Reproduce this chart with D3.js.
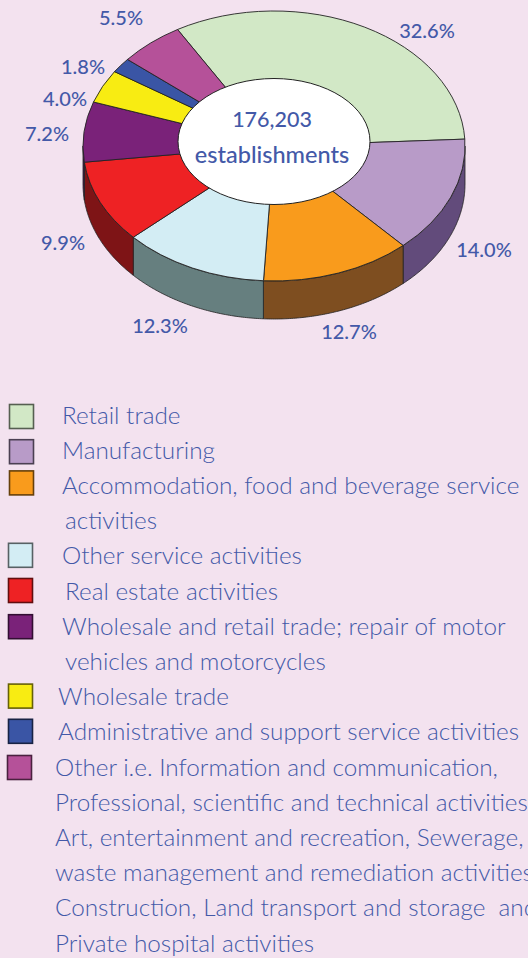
<!DOCTYPE html>
<html>
<head>
<meta charset="utf-8">
<script src="https://cdn.jsdelivr.net/npm/d3@7"></script>
<style>
  html, body { margin: 0; padding: 0; background: #f3e2ef; overflow: hidden; }
  svg { display: block; }
</style>
</head>
<body>
<div id="vis"></div>
<script>
const WIDTH = 528;
const HEIGHT = 958;

// Datos
const categorias = ["Retail trade", "Manufacturing", "Accommodation", "Other service", "Real estate", "Wholesale and retail", "Wholesale trade", "Administrative", "Other"];
const valores = [32.6, 14.0, 12.7, 12.3, 9.9, 7.2, 4.0, 1.8, 5.5];
const etiquetas = ["32.6%", "14.0%", "12.7%", "12.3%", "9.9%", "7.2%", "4.0%", "1.8%", "5.5%"];
const total = ["176,203", "establishments"];
const leyenda = [
  "Retail trade",
  "Manufacturing",
  "Accommodation, food and beverage service",
  "activities",
  "Other service activities",
  "Real estate activities",
  "Wholesale and retail trade; repair of motor",
  "vehicles and motorcycles",
  "Wholesale trade",
  "Administrative and support service activities",
  "Other i.e. Information and communication,",
  "Professional, scientific and technical activities,",
  "Art, entertainment and recreation, Sewerage,",
  "waste management and remediation activities,",
  "Construction, Land transport and storage  and",
  "Private hospital activities"
];
// en que linea de la leyenda parte cada categoria
const lineaInicio = [0, 1, 2, 4, 5, 6, 8, 9, 10];

// Colores
const colores = ["#d2e8c6", "#b89bc8", "#f99b1c", "#d3edf4", "#ee2224", "#7a2279", "#f8ec12", "#3a55a5", "#b55199"];
const coloresLado = ["#687f7f", "#624b7b", "#7e4e20", "#667f7f", "#7e1416", "#4a1a4f", "#7d7609", "#1d2b53", "#5b294d"];
const azul = "#4359a8";

// Posicion de las etiquetas y de la leyenda
const etiquetaX = [427, 484, 349, 160, 63, 47, 65, 83, 121];
const etiquetaY = [31, 250, 332, 326, 243, 134, 99, 67, 18];
const leyendaX = [62, 62, 62, 65, 62, 65, 62, 65, 58, 58, 55, 55, 55, 55, 55, 55];
const cuadroX = [9, 9, 9, 8, 8, 8, 8, 8, 7];
const cuadroDy = [-11, -11, -15, -13, -13, -12, -13, -13, -12];

const SVG = d3.select("#vis").append("svg")
  .attr("width", WIDTH)
  .attr("height", HEIGHT);

// Torta ------------------------------------------------------------------
const cx = 274, cy = 146, rx = 191, ry = 135, alto = 38;

const pie = d3.pie().sort(null).value(d => d)
  .startAngle(-30.3 * Math.PI / 180)
  .endAngle(329.7 * Math.PI / 180);
const arcos = pie(valores);

// pasa de angulo de la torta a coordenadas de la elipse
const xElipse = a => cx + rx * Math.sin(a);
const yElipse = a => cy - ry * Math.cos(a);

// Lados: solo la mitad de abajo se ve
const lado = (inicio, fin) => {
  const angulos = d3.range(inicio, fin, 0.01).concat([fin]);
  const arriba = angulos.map(a => [xElipse(a), yElipse(a)]);
  const abajo = angulos.slice().reverse().map(a => [xElipse(a), yElipse(a) + alto]);
  return d3.line().curve(d3.curveLinearClosed)(arriba.concat(abajo));
};

SVG.selectAll("path.lado")
  .data(arcos.filter(d => d.endAngle > Math.PI / 2 && d.startAngle < 3 * Math.PI / 2))
  .enter()
  .append("path")
  .attr("class", "lado")
  .attr("d", d => lado(Math.max(d.startAngle, Math.PI / 2), Math.min(d.endAngle, 3 * Math.PI / 2)))
  .attr("fill", d => coloresLado[d.index])
  .attr("stroke", "#222")
  .attr("stroke-width", 0.8);

// Tapa
const arco = d3.arc().innerRadius(0).outerRadius(1);

SVG.selectAll("path.tajada")
  .data(arcos)
  .enter()
  .append("path")
  .attr("class", "tajada")
  .attr("d", arco)
  .attr("transform", `translate(${cx}, ${cy}) scale(${rx}, ${ry})`)
  .attr("fill", d => colores[d.index])
  .attr("stroke", "#222")
  .attr("stroke-width", 0.9)
  .attr("vector-effect", "non-scaling-stroke");

// Hoyo blanco
SVG.append("ellipse")
  .attr("cx", cx)
  .attr("cy", 141.5)
  .attr("rx", 96)
  .attr("ry", 63)
  .attr("fill", "white")
  .attr("stroke", "#222")
  .attr("stroke-width", 1);

SVG.selectAll("text.total")
  .data(total)
  .enter()
  .append("text")
  .attr("class", "total")
  .attr("x", 272)
  .attr("y", (d, i) => i == 0 ? 127 : 163)
  .attr("text-anchor", "middle")
  .attr("fill", azul)
  .style("font-family", "Lato, sans-serif")
  .style("font-size", (d, i) => i == 0 ? "21.5px" : "23.5px")
  .style("font-weight", 500)
  .text(d => d);

// Porcentajes
SVG.selectAll("text.etiqueta")
  .data(etiquetas)
  .enter()
  .append("text")
  .attr("class", "etiqueta")
  .attr("x", (d, i) => etiquetaX[i])
  .attr("y", (d, i) => etiquetaY[i])
  .attr("dy", "0.35em")
  .attr("text-anchor", "middle")
  .attr("fill", azul)
  .style("font-family", "Lato, sans-serif")
  .style("font-size", "20px")
  .style("font-weight", 500)
  .text(d => d);

// Leyenda ----------------------------------------------------------------
const yLinea = d3.scaleLinear().domain([0, leyenda.length - 1]).range([415, 943]);

SVG.selectAll("text.leyenda")
  .data(leyenda)
  .enter()
  .append("text")
  .attr("class", "leyenda")
  .attr("x", (d, i) => leyendaX[i])
  .attr("y", (d, i) => yLinea(i))
  .attr("dy", "0.35em")
  .attr("fill", azul)
  .style("white-space", "pre")
  .style("font-family", "Lato, sans-serif")
  .style("font-size", "24.3px")
  .style("font-weight", 300)
  .text(d => d);

SVG.selectAll("rect.cuadro")
  .data(categorias)
  .enter()
  .append("rect")
  .attr("class", "cuadro")
  .attr("x", (d, i) => cuadroX[i] + 0.5)
  .attr("y", (d, i) => yLinea(lineaInicio[i]) + cuadroDy[i] + 0.5)
  .attr("width", 24)
  .attr("height", 24)
  .attr("fill", (d, i) => colores[i])
  .attr("stroke", (d, i) => d3.color(colores[i]).darker(2.5))
  .attr("stroke-width", 1.6);
</script>
</body>
</html>
